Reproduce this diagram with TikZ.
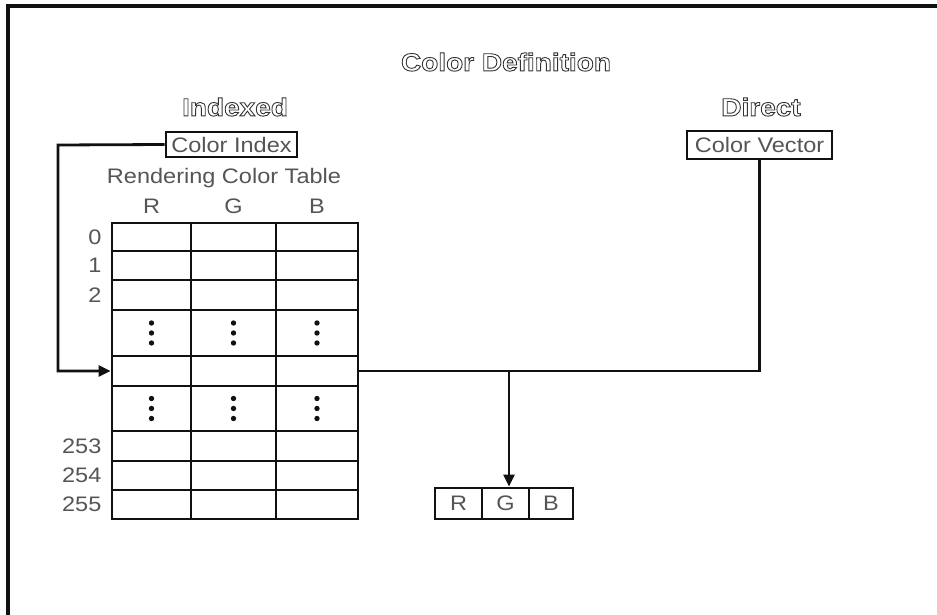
\documentclass[tikz,border=0pt]{standalone}
\usepackage{fontspec}
\setmainfont[FakeStretch=1.12]{Liberation Sans}
\usetikzlibrary{arrows.meta,positioning}
\definecolor{cdink}{HTML}{111111}
\definecolor{cdtext}{HTML}{555555}
\definecolor{cdhead}{HTML}{333333}
\newcommand{\hollow}[1]{\special{pdf:literal direct 1 Tr 0.9 w}#1\special{pdf:literal direct 0 Tr}}
\tikzset{
  frame/.style={line width=3.6pt,draw=cdink},
  lbl/.style={inner sep=0pt,text=cdtext,font=\fontsize{21}{24}\selectfont},
  ttl/.style={inner sep=0pt,text=cdhead,font=\fontsize{25}{28}\selectfont\bfseries},
  box/.style={lbl,draw=cdink,line width=2.8pt},
  cell/.style={draw=cdink,line width=2.8pt,inner sep=0pt},
  wire/.style={draw=cdink,line width=2.8pt},
  ar/.style={wire,-{Triangle[length=12pt,width=11pt]}},
}

\begin{document}
\begin{tikzpicture}[x=1pt,y=-1pt]
\useasboundingbox (0,0) rectangle (937,615);
% outer frame (runs off the page)
\draw[frame] (8,615) -- (8,6) -- (937,6);
% titles
\node[ttl] (title) at (506,62) {\hollow{Color Definition}};
\node[ttl] (indexed) at (235,107) {\hollow{Indexed}};
\node[ttl] (direct) at (761,107) {\hollow{Direct}};
% inputs
\node[box,minimum width=131,minimum height=25] (cidx) at (231.5,144.5) {Color Index};
\node[box,minimum width=145,minimum height=28] (cvec) at (759.5,145) {Color Vector};
% rendering color table
\node[lbl] (rct) at (224,178) {Rendering Color Table};
\foreach \r/\top/\bot in {0/223/251,1/251/280,2/280/310,3/310/356,4/356/386,5/386/431,6/431/461,7/461/490,8/490/519}
  \foreach \c/\lft/\rgt in {r/112/191,g/191/276,b/276/358}
    \node[cell,minimum width=\rgt-\lft,minimum height=\bot-\top] (t\r\c) at ({(\lft+\rgt)/2},{(\top+\bot)/2}) {};
\node[lbl,above=8pt of t0r] (hr) {R};
\node[lbl,above=8pt of t0g] (hg) {G};
\node[lbl,above=8pt of t0b] (hb) {B};
\foreach \r/\t in {0/0,1/1,2/2,6/253,7/254,8/255}
  \node[lbl,left=9pt of t\r r] (n\r) {\t};
% skipped entries
\foreach \r in {3,5}
  \foreach \c in {r,g,b}
    \foreach \d in {-10,0,10}
      \fill[cdink] (t\r\c.center) ++(0,\d) circle (2.7);
% output vector
\node[cell,minimum width=47,minimum height=31] (outr) at (458.5,503.5) {};
\node[cell,minimum width=47,minimum height=31] (outg) at (505.5,503.5) {};
\node[cell,minimum width=44,minimum height=31] (outb) at (551,503.5) {};
\node[lbl] (lr) at (outr) {R};
\node[lbl] (lg) at (outg) {G};
\node[lbl] (lb) at (outb) {B};
% connections
\coordinate (bend) at (58,145);
\coordinate (tap) at (509,371);
\draw[ar] (cidx.west) -- (bend) |- (t4r.west);
\draw[wire] (t4b.east) -| (cvec.south);
\draw[ar] (tap) -- (tap |- outg.north);
\end{tikzpicture}
\end{document}
